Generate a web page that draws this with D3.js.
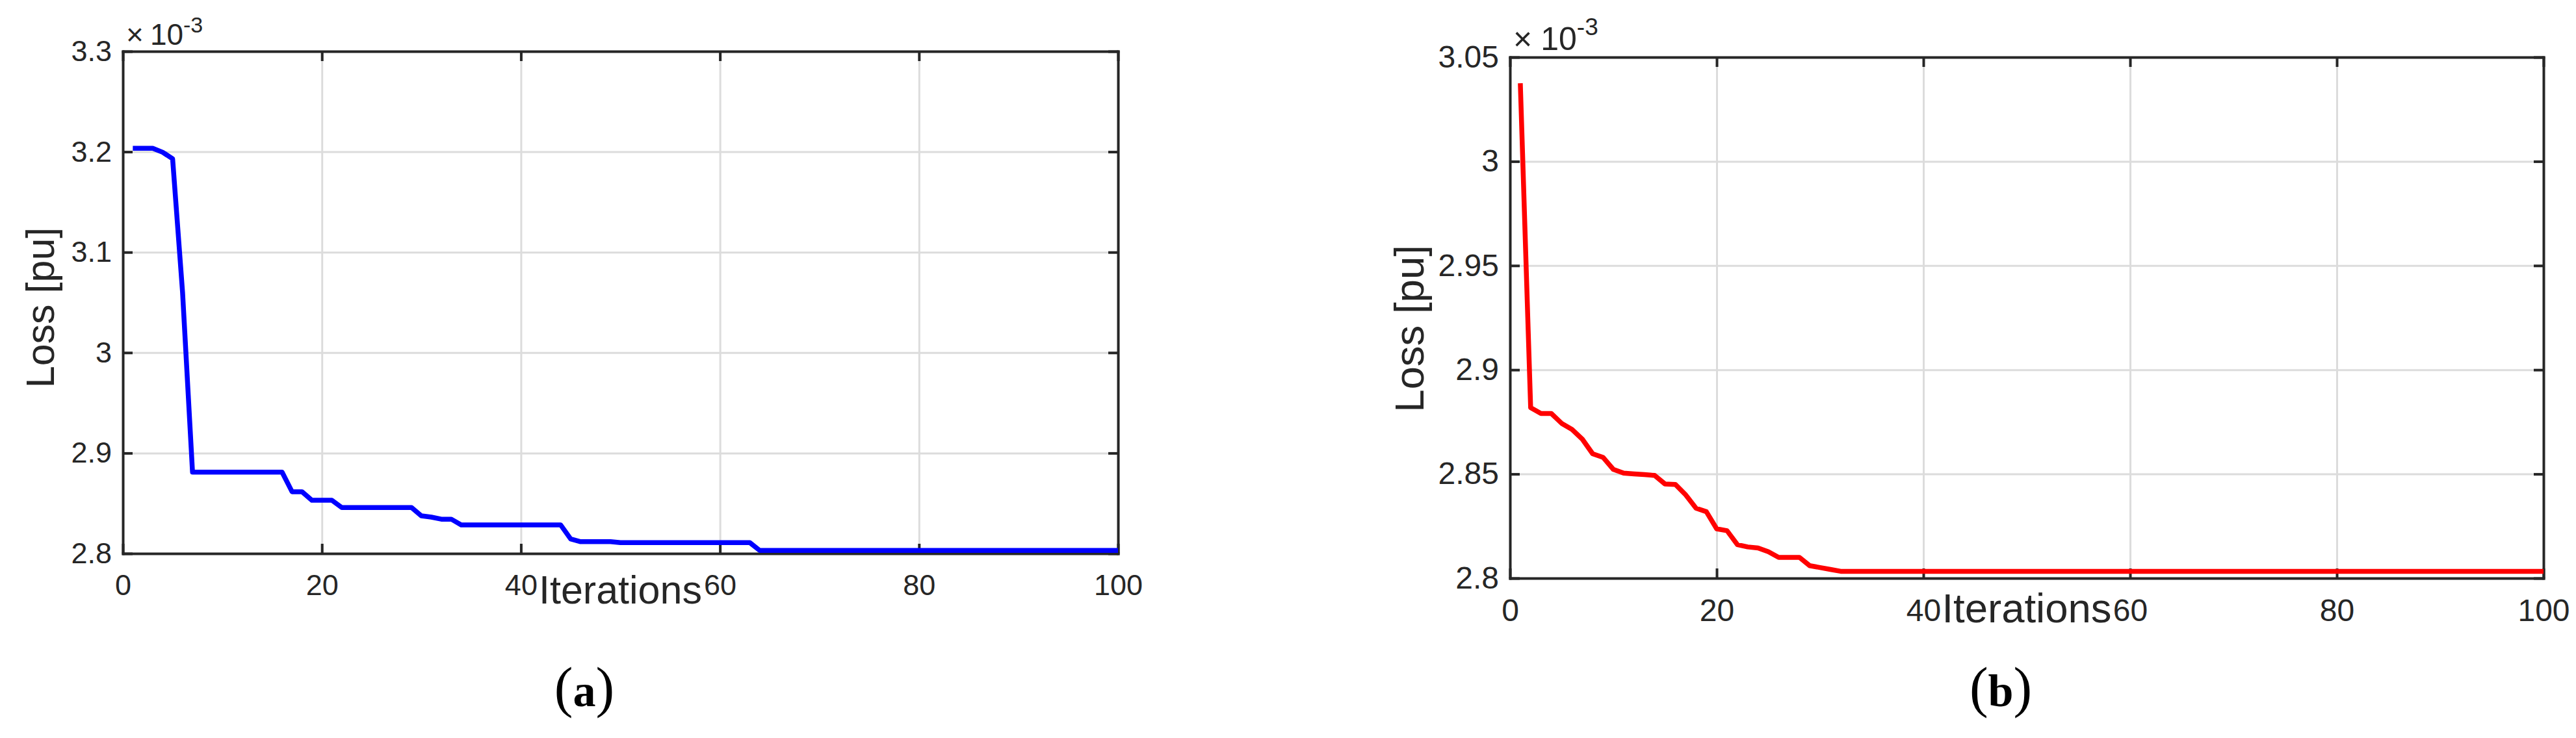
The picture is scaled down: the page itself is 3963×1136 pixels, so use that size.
<!DOCTYPE html>
<html>
<head>
<meta charset="utf-8">
<script src="https://cdn.jsdelivr.net/npm/d3@7"></script>
<style>
  body { margin: 0; background: #fff; }
  text { font-family: "Liberation Sans", Arial, sans-serif; fill: #262626; }
</style>
</head>
<body>
<script>
// Loss per iteration (x10^-3 pu)
var lossA = [
  3.2035, 3.2035, 3.2035, 3.1995, 3.193, 3.06, 2.881, 2.881, 2.881, 2.881,
  2.881, 2.881, 2.881, 2.881, 2.881, 2.881, 2.8615, 2.8615, 2.853, 2.853,
  2.853, 2.8458, 2.8458, 2.8458, 2.8458, 2.8458, 2.8458, 2.8458, 2.8458, 2.8375,
  2.8362, 2.8342, 2.8342, 2.8284, 2.8284, 2.8284, 2.8284, 2.8284, 2.8284, 2.8284,
  2.8284, 2.8284, 2.8284, 2.8284, 2.8145, 2.8118, 2.8118, 2.8118, 2.8118, 2.8108,
  2.8108, 2.8108, 2.8108, 2.8108, 2.8108, 2.8108, 2.8108, 2.8108, 2.8108, 2.8108,
  2.8108, 2.8108, 2.8108, 2.803, 2.803, 2.803, 2.803, 2.803, 2.803, 2.803,
  2.803, 2.803, 2.803, 2.803, 2.803, 2.803, 2.803, 2.803, 2.803, 2.803,
  2.803, 2.803, 2.803, 2.803, 2.803, 2.803, 2.803, 2.803, 2.803, 2.803,
  2.803, 2.803, 2.803, 2.803, 2.803, 2.803, 2.803, 2.803, 2.803, 2.803
];
var lossB = [
  3.0375, 2.8818, 2.879, 2.879, 2.8743, 2.8714, 2.8667, 2.8597, 2.858, 2.8522,
  2.8504, 2.85, 2.8497, 2.8493, 2.8452, 2.845, 2.84, 2.8336, 2.8319, 2.8237,
  2.8228, 2.8161, 2.815, 2.8145, 2.8127, 2.81, 2.81, 2.81, 2.806, 2.8051,
  2.8042, 2.8033, 2.8033, 2.8033, 2.8033, 2.8033, 2.8033, 2.8033, 2.8033, 2.8033,
  2.8033, 2.8033, 2.8033, 2.8033, 2.8033, 2.8033, 2.8033, 2.8033, 2.8033, 2.8033,
  2.8033, 2.8033, 2.8033, 2.8033, 2.8033, 2.8033, 2.8033, 2.8033, 2.8033, 2.8033,
  2.8033, 2.8033, 2.8033, 2.8033, 2.8033, 2.8033, 2.8033, 2.8033, 2.8033, 2.8033,
  2.8033, 2.8033, 2.8033, 2.8033, 2.8033, 2.8033, 2.8033, 2.8033, 2.8033, 2.8033,
  2.8033, 2.8033, 2.8033, 2.8033, 2.8033, 2.8033, 2.8033, 2.8033, 2.8033, 2.8033,
  2.8033, 2.8033, 2.8033, 2.8033, 2.8033, 2.8033, 2.8033, 2.8033, 2.8033, 2.8033
];
var xTicks = [0, 20, 40, 60, 80, 100];
var yTicksA = [2.8, 2.9, 3, 3.1, 3.2, 3.3];
var yTicksB = [2.8, 2.85, 2.9, 2.95, 3, 3.05];
var xLabel = "Iterations";
var yLabel = "Loss [pu]";
var exponent = "-3";
var captions = ["a", "b"];

var svg = d3.select("body").append("svg")
    .attr("width", 3963)
    .attr("height", 1136)
    .style("background", "#fff");

// panel boxes in page pixels
var panels = [
  { left: 189, right: 1720, top: 79, bottom: 852, values: lossA, yTicks: yTicksA,
    color: "#0000ff", tick: 45, label: 61, ylabGap: 106, ylabShift: 8, xlabGap: 77,
    expFont: 46, supFont: 34, supDy: -19, expGap: 10, capX: 899, caption: captions[0] },
  { left: 2323, right: 3913, top: 88, bottom: 890, values: lossB, yTicks: yTicksB,
    color: "#ff0000", tick: 48, label: 63.5, ylabGap: 133, ylabShift: 17, xlabGap: 68,
    expFont: 50, supFont: 37, supDy: -23, expGap: 13, capX: 3078, caption: captions[1] }
];

panels.forEach(function (p) {
  var w = p.right - p.left, h = p.bottom - p.top;
  var x = d3.scaleLinear().domain([0, 100]).range([p.left, p.right]);
  var y = d3.scaleLinear().domain([p.yTicks[0], p.yTicks[p.yTicks.length - 1]]).range([p.bottom, p.top]);
  var g = svg.append("g");

  // grid lines
  var gx = g.append("g")
      .attr("transform", "translate(0," + p.bottom + ")")
      .call(d3.axisBottom(x).tickValues(xTicks.slice(1, -1)).tickSize(-h).tickFormat(""));
  var gy = g.append("g")
      .attr("transform", "translate(" + p.left + ",0)")
      .call(d3.axisLeft(y).tickValues(p.yTicks.slice(1, -1)).tickSize(-w).tickFormat(""));
  [gx, gy].forEach(function (s) {
    s.select(".domain").remove();
    s.selectAll("line").attr("stroke", "#dcdcdc").attr("stroke-width", 3);
  });

  // axes box with inward ticks
  var axes = [
    { a: d3.axisBottom(x).tickValues(xTicks).tickPadding(32), t: "translate(0," + p.bottom + ")" },
    { a: d3.axisTop(x).tickValues(xTicks).tickFormat(""), t: "translate(0," + p.top + ")" },
    { a: d3.axisLeft(y).tickValues(p.yTicks).tickPadding(17).tickFormat(function (d) { return String(d); }), t: "translate(" + p.left + ",0)" },
    { a: d3.axisRight(y).tickValues(p.yTicks).tickFormat(""), t: "translate(" + p.right + ",0)" }
  ];
  axes.forEach(function (ax) {
    var s = g.append("g")
        .attr("transform", ax.t)
        .call(ax.a.tickSizeInner(-15).tickSizeOuter(0))
        .attr("font-family", null)
        .attr("font-size", p.tick);
    s.select(".domain").attr("stroke", "#262626").attr("stroke-width", 4).attr("stroke-linecap", "square");
    s.selectAll(".tick line").attr("stroke", "#262626").attr("stroke-width", 4);
    s.selectAll(".tick text").attr("fill", "#262626");
  });

  // loss curve
  var line = d3.line()
      .x(function (d, i) { return x(i + 1); })
      .y(function (d) { return y(d); });
  g.append("path")
      .datum(p.values)
      .attr("fill", "none")
      .attr("stroke", p.color)
      .attr("stroke-width", 7.5)
      .attr("stroke-linejoin", "round")
      .attr("d", line);

  // exponent marker above the y axis
  var ex = g.append("text")
      .attr("x", p.left + 5)
      .attr("y", p.top - 10 - (p.supFont - 34) / 4)
      .attr("font-size", p.expFont);
  ex.append("tspan").text("\u00d7");
  ex.append("tspan").attr("dx", p.expGap).text("10");
  ex.append("tspan").attr("font-size", p.supFont).attr("dy", p.supDy).text(exponent);

  // axis titles
  g.append("text")
      .attr("transform", "translate(" + (p.left - p.ylabGap) + "," + ((p.top + p.bottom) / 2 + p.ylabShift) + ") rotate(-90)")
      .attr("text-anchor", "middle")
      .attr("font-size", p.label)
      .text(yLabel);
  g.append("text")
      .attr("x", (p.left + p.right) / 2)
      .attr("y", p.bottom + p.xlabGap)
      .attr("text-anchor", "middle")
      .attr("font-size", p.label)
      .text(xLabel);

  // sub-figure caption
  var cap = g.append("text")
      .attr("x", p.capX)
      .attr("y", 1087)
      .attr("text-anchor", "middle")
      .style("font-family", "'Liberation Serif', 'Times New Roman', serif")
      .style("fill", "#000");
  cap.append("tspan").attr("font-size", 86).text("(");
  cap.append("tspan").attr("font-size", 70).attr("font-weight", "bold").text(p.caption);
  cap.append("tspan").attr("font-size", 86).text(")");
});
</script>
</body>
</html>
